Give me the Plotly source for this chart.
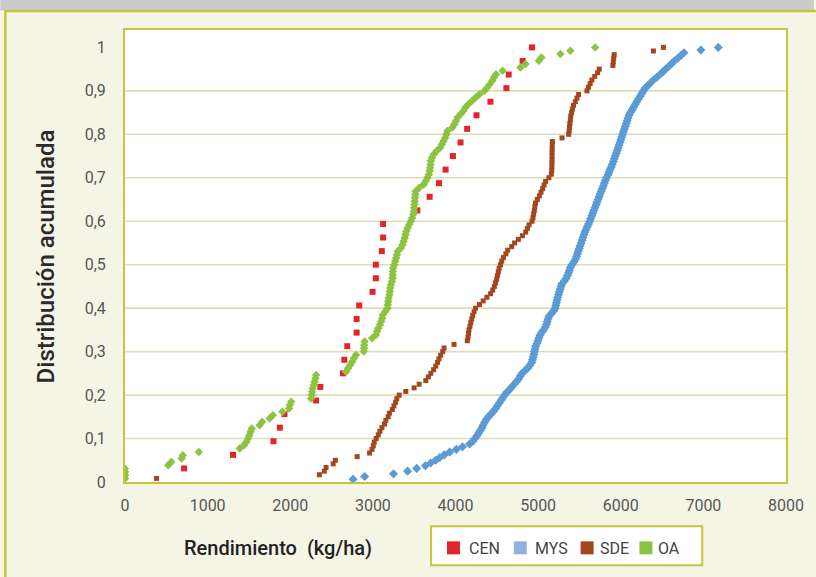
import numpy as np
import plotly.graph_objects as go

# Rendimiento (kg/ha) por sitio, ordenado; la distribución acumulada se obtiene del rango
cen_yield = [715, 1307, 1797, 1874, 1930, 2312, 2364, 2638, 2654, 2690, 2803, 2803,
             2835, 2996, 3036, 3036, 3108, 3124, 3124, 3538, 3687, 3800, 3880, 3969,
             4061, 4141, 4254, 4423, 4616, 4644, 4813, 4926]

mys_yield = [2760, 2900, 3250, 3420, 3530, 3635, 3700, 3760, 3810, 3865, 3930, 4010,
             4085, 4170, 4210, 4235, 4260, 4280, 4300, 4320, 4335, 4352, 4372, 4400,
             4428, 4458, 4485, 4505, 4528, 4550, 4572, 4596, 4620, 4655, 4680, 4710,
             4740, 4765, 4785, 4806, 4840, 4875, 4900, 4922, 4932, 4940, 4948, 4955,
             4962, 4970, 4985, 4998, 5010, 5022, 5040, 5065, 5086, 5100, 5110, 5120,
             5132, 5160, 5188, 5205, 5214, 5221, 5229, 5237, 5247, 5256, 5266, 5277,
             5288, 5318, 5340, 5355, 5368, 5380, 5390, 5410, 5432, 5452, 5465, 5475,
             5486, 5498, 5508, 5520, 5532, 5543, 5555, 5566, 5580, 5595, 5610, 5625,
             5637, 5649, 5662, 5675, 5688, 5700, 5712, 5725, 5738, 5750, 5763, 5776,
             5789, 5801, 5814, 5827, 5845, 5858, 5872, 5885, 5898, 5911, 5922, 5934,
             5946, 5957, 5968, 5979, 5990, 6002, 6012, 6022, 6033, 6044, 6055, 6066,
             6077, 6088, 6099, 6118, 6138, 6155, 6175, 6194, 6214, 6235, 6255, 6275,
             6295, 6330, 6362, 6395, 6435, 6475, 6510, 6545, 6580, 6615, 6648, 6690,
             6728, 6765, 6970, 7180]

sde_yield = [382, 2353, 2413, 2433, 2520, 2546, 2810, 2960, 2990, 3005, 3017, 3040,
             3065, 3085, 3110, 3140, 3157, 3185, 3200, 3235, 3255, 3275, 3290, 3318,
             3399, 3499, 3560, 3640, 3672, 3701, 3735, 3761, 3782, 3800, 3820, 3845,
             3862, 3982, 4143, 4152, 4158, 4163, 4175, 4185, 4197, 4208, 4225, 4243,
             4290, 4335, 4380, 4425, 4450, 4470, 4485, 4498, 4508, 4518, 4528, 4545,
             4560, 4580, 4610, 4632, 4680, 4715, 4760, 4810, 4850, 4870, 4890, 4926,
             4938, 4946, 4954, 4960, 4968, 4990, 5015, 5035, 5055, 5072, 5090, 5130,
             5160, 5165, 5166, 5167, 5168, 5168, 5169, 5170, 5171, 5173, 5289, 5370,
             5376, 5380, 5384, 5390, 5395, 5405, 5415, 5428, 5450, 5470, 5490, 5591,
             5610, 5630, 5651, 5685, 5720, 5740, 5905, 5910, 5915, 5920, 6395, 6516]

oa_yield = [0, 0, 0, 0, 523, 560, 684, 700, 893, 1388, 1440, 1468, 1490, 1505, 1520,
            1535, 1629, 1660, 1750, 1790, 1905, 1985, 1995, 2011, 2253, 2260, 2265,
            2272, 2285, 2295, 2305, 2313, 2675, 2700, 2725, 2750, 2770, 2795, 2890,
            2893, 2896, 2900, 2990, 3036, 3050, 3065, 3085, 3100, 3112, 3120, 3150,
            3177, 3180, 3185, 3192, 3200, 3205, 3210, 3218, 3230, 3238, 3240, 3242,
            3245, 3258, 3270, 3282, 3292, 3300, 3340, 3360, 3372, 3385, 3396, 3405,
            3420, 3440, 3460, 3475, 3488, 3497, 3500, 3503, 3506, 3510, 3514, 3519,
            3560, 3615, 3640, 3660, 3678, 3688, 3694, 3698, 3701, 3715, 3738, 3770,
            3815, 3835, 3855, 3875, 3890, 3902, 3962, 3985, 4005, 4025, 4060, 4095,
            4120, 4155, 4200, 4245, 4290, 4350, 4385, 4415, 4445, 4465, 4490, 4570,
            4786, 4847, 5008, 5040, 5269, 5390, 5691]

series_names = ["CEN", "MYS", "SDE", "OA"]
x_ticks = [0, 1000, 2000, 3000, 4000, 5000, 6000, 7000, 8000]
y_ticks = [0, 0.1, 0.2, 0.3, 0.4, 0.5, 0.6, 0.7, 0.8, 0.9, 1]
y_ticktext = ["0", "0,1", "0,2", "0,3", "0,4", "0,5", "0,6", "0,7", "0,8", "0,9", "1"]

# estilo de cada serie: color de puntos, color de leyenda, símbolo, tamaño
styles = {
    "CEN": dict(color="#e3242b", legend="#e3242b", symbol="square", size=6),
    "MYS": dict(color="#5b9bd5", legend="#8eb1de", symbol="diamond", size=7),
    "SDE": dict(color="#a3471f", legend="#a3471f", symbol="square", size=5),
    "OA": dict(color="#8cc341", legend="#8cc341", symbol="diamond", size=6.5),
}

data = {"CEN": cen_yield, "MYS": mys_yield, "SDE": sde_yield, "OA": oa_yield}

# geometría de la figura en píxeles
W, H = 816, 577
L, R, T, B = 125, 788, 30, 481.7
PW, PH = R - L, B - T


def px(xp):
    return (xp - L) / PW


def py(yp):
    return (B - yp) / PH


OLIVE = "#c4c63c"
CREAM = "#f5f5e5"
GRID = "#dfdeb2"
FONT = "Roboto"

fig = go.Figure()

# la serie de puntos para cada sitio (distribución acumulada empírica)
for name in series_names:
    vals = np.sort(np.array(data[name], dtype=float))
    n = len(vals)
    cdf = np.arange(1, n + 1) / n
    st = styles[name]
    fig.add_trace(go.Scatter(
        x=vals, y=cdf, mode="markers", name=name, showlegend=False,
        marker=dict(color=st["color"], symbol=st["symbol"], size=st["size"],
                    line=dict(width=0)),
    ))

shapes = [
    # franja gris superior
    dict(type="rect", xref="paper", yref="paper", x0=px(0), x1=px(W), y0=py(0), y1=py(10.5),
         fillcolor="#cbcbcb", line=dict(width=0), layer="below"),
    # borde del panel
    dict(type="line", xref="paper", yref="paper", x0=px(5), x1=px(W + 5), y0=py(11), y1=py(11),
         line=dict(color=OLIVE, width=2.5)),
    dict(type="line", xref="paper", yref="paper", x0=px(5), x1=px(5), y0=py(10), y1=py(H + 5),
         line=dict(color=OLIVE, width=2.5)),
]

# líneas horizontales de la cuadrícula (0,1 a 0,9)
for v in y_ticks[1:-1]:
    shapes.append(dict(type="line", xref="paper", yref="y", x0=0, x1=1, y0=v, y1=v,
                       line=dict(color=GRID, width=1.6), layer="below"))

# leyenda dibujada: recuadro, muestras de color y etiquetas
leg_box = dict(x0=432, x1=704, y0=526, y1=565)
leg_items = [("CEN", 448, 468), ("MYS", 515, 534), ("SDE", 582, 599), ("OA", 641, 658)]
shapes.append(dict(type="rect", xref="paper", yref="paper",
                   x0=px(leg_box["x0"]), x1=px(leg_box["x1"]),
                   y0=py(leg_box["y1"]), y1=py(leg_box["y0"]),
                   fillcolor="white", line=dict(color=OLIVE, width=2)))

annotations = []
for name, sx, tx in leg_items:
    shapes.append(dict(type="rect", xref="paper", yref="paper",
                       x0=px(sx), x1=px(sx + 13), y0=py(554), y1=py(541),
                       fillcolor=styles[name]["legend"], line=dict(width=0)))
    annotations.append(dict(text=name, xref="paper", yref="paper", x=px(tx), y=py(548),
                            showarrow=False, xanchor="left", yanchor="middle",
                            font=dict(family=FONT, size=16, color="#444444")))

annotations += [
    dict(text="Rendimiento  (kg/ha)", xref="paper", yref="paper", x=px(278), y=py(548),
         showarrow=False, xanchor="center", yanchor="middle",
         font=dict(family=FONT, size=20, color="#222222", weight=500)),
    dict(text="Distribución acumulada", xref="paper", yref="paper", x=px(46), y=py(256),
         showarrow=False, xanchor="center", yanchor="middle", textangle=-90,
         font=dict(family=FONT, size=24, color="#2a2a2a", weight=500)),
]

fig.update_layout(
    width=W, height=H,
    margin=dict(l=L, r=W - R, t=T, b=H - B, pad=0),
    paper_bgcolor=CREAM, plot_bgcolor="white",
    font=dict(family=FONT, size=16, color="#555555"),
    shapes=shapes, annotations=annotations,
    showlegend=False,
    xaxis=dict(
        range=[0, 8000], tickvals=x_ticks, ticktext=[str(v) for v in x_ticks],
        showgrid=False, zeroline=False, showline=True, mirror=True,
        linecolor=OLIVE, linewidth=2, ticks="", ticklabelstandoff=8,
        tickfont=dict(family=FONT, size=16, color="#555555"),
    ),
    yaxis=dict(
        range=[0, 1.04], tickvals=y_ticks, ticktext=y_ticktext,
        showgrid=False, zeroline=False,
        showline=True, mirror=True, linecolor=OLIVE, linewidth=2,
        ticks="", ticklabelstandoff=14,
        tickfont=dict(family=FONT, size=16, color="#555555"),
    ),
)

fig.write_html("out.html")
